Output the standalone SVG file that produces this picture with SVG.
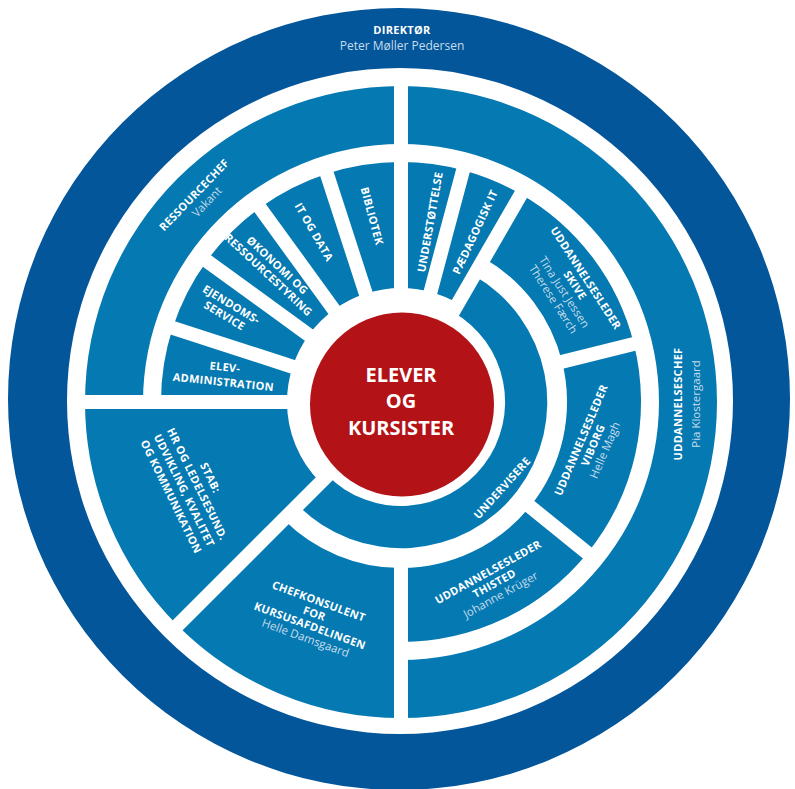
<svg xmlns="http://www.w3.org/2000/svg" width="795" height="789" viewBox="0 0 795 789">
<style>
.dark{fill:#03569a}
.light{fill:#0579b1}
.red{fill:#b31317}
.sep{stroke:#fff;stroke-width:14;stroke-linecap:butt;fill:none}
text{font-family:"Open Sans","Liberation Sans",sans-serif;fill:#fff;text-anchor:middle}
.t{font-weight:bold;font-size:11px;letter-spacing:0.3px}
.n{font-size:11.5px;fill:#c6dcec}
.c{font-weight:bold;font-size:20px}
</style>
<rect width="795" height="789" fill="#fff"/>
<g id="direktor">
<path class="dark" fill-rule="evenodd" d="M8,399 a391,391 0 1,0 782,0 a391,391 0 1,0 -782,0 Z M67,401 a333,333 0 1,0 666,0 a333,333 0 1,0 -666,0 Z"/>
<text class="t" x="402" y="34">DIREKTØR</text>
<text class="n" x="402" y="50" style="font-size:12px">Peter Møller Pedersen</text>
</g>
<g id="ressourcechef">
<path class="light" d="M85,402 A316,316 0 0,1 401,86 L401,144 A258,258 0 0,0 143,402 Z"/>
<g transform="translate(194,195) rotate(-46)"><text class="t" x="0" y="4">RESSOURCECHEF</text><text class="n" x="4" y="18">Vakant</text></g>
</g>
<g id="uddannelseschef">
<path class="light" d="M401,86 A316,316 0 0,1 401,718 L401,660 A258,258 0 0,0 401,144 Z"/>
<g transform="translate(687,404) rotate(-90)"><text class="t" x="0" y="-5">UDDANNELSESCHEF</text><text class="n" x="0" y="13">Pia Klostergaard</text></g>
</g>
<g id="stab">
<path class="light" d="M177.6,625.4 A316,316 0 0,1 85,402 L287,402 A114,114 0 0,0 320.4,482.6 Z"/>
<g transform="translate(191,487) rotate(64)"><text class="t"><tspan x="0" y="-17.5">STAB:</tspan><tspan x="0" y="-3">HR OG LEDELSESUND.</tspan><tspan x="0" y="11.5">UDVIKLING, KVALITET</tspan><tspan x="0" y="26">OG KOMMUNIKATION</tspan></text></g>
</g>
<g id="chefkonsulent">
<path class="light" d="M401,718 A316,316 0 0,1 177.6,625.4 L283.6,519.4 A166,166 0 0,0 401,568 Z"/>
<g transform="translate(312,620) rotate(20)"><text class="t"><tspan x="0" y="-16">CHEFKONSULENT</tspan><tspan x="0" y="-3">FOR</tspan><tspan x="0" y="10">KURSUSAFDELINGEN</tspan></text><text class="n" x="0" y="23">Helle Damsgaard</text></g>
</g>
<g id="elevadministration">
<path class="light" d="M161,402 A240,240 0 0,1 172.7,327.8 L292.6,366.8 A114,114 0 0,0 287,402 Z"/>
<g transform="translate(224,376) rotate(6)"><text class="t"><tspan x="0" y="-5">ELEV-</tspan><tspan x="0" y="10">ADMINISTRATION</tspan></text></g>
</g>
<g id="ejendomsservice">
<path class="light" d="M172.7,327.8 A240,240 0 0,1 206.8,260.9 L308.8,335 A114,114 0 0,0 292.6,366.8 Z"/>
<g transform="translate(228,310) rotate(31)"><text class="t"><tspan x="0" y="-2.5">EJENDOMS-</tspan><tspan x="0" y="10.5">SERVICE</tspan></text></g>
</g>
<g id="okonomi">
<path class="light" d="M206.8,260.9 A240,240 0 0,1 259.9,207.8 L334,309.8 A114,114 0 0,0 308.8,335 Z"/>
<g transform="translate(273,270) rotate(43)"><text class="t"><tspan x="0" y="-2.5">ØKONOMI OG</tspan><tspan x="0" y="10.5">RESSOURCESTYRING</tspan></text></g>
</g>
<g id="itogdata">
<path class="light" d="M259.9,207.8 A240,240 0 0,1 326.8,173.7 L365.8,293.6 A114,114 0 0,0 334,309.8 Z"/>
<g transform="translate(314,232) rotate(60)"><text class="t" x="0" y="4">IT OG DATA</text></g>
</g>
<g id="bibliotek">
<path class="light" d="M326.8,173.7 A240,240 0 0,1 401,162 L401,288 A114,114 0 0,0 365.8,293.6 Z"/>
<g transform="translate(372,216) rotate(75)"><text class="t" x="0" y="4">BIBLIOTEK</text></g>
</g>
<g id="understottelse">
<path class="light" d="M401,162 A240,240 0 0,1 463.1,170.2 L430.5,291.9 A114,114 0 0,0 401,288 Z"/>
<g transform="translate(430,222) rotate(-80)"><text class="t" x="0" y="4">UNDERSTØTTELSE</text></g>
</g>
<g id="paedagogiskit">
<path class="light" d="M463.1,170.2 A240,240 0 0,1 521,194.2 L458,303.3 A114,114 0 0,0 430.5,291.9 Z"/>
<g transform="translate(475,232) rotate(-65)"><text class="t" x="0" y="4">PÆDAGOGISK IT</text></g>
</g>
<g id="undervisere">
<path class="light" d="M474,275.6 A146,146 0 1,1 297.8,505.2 L327.5,475.5 A104,104 0 1,0 453,311.9 Z"/>
<g transform="translate(502,488) rotate(-48)"><text class="t" x="0" y="4">UNDERVISERE</text></g>
</g>
<g id="skive">
<path class="light" d="M521,194.2 A240,240 0 0,1 633.9,343.9 L562.1,361.8 A166,166 0 0,0 484,258.2 Z"/>
<g transform="translate(586,278) rotate(57)"><text class="t"><tspan x="0" y="4">UDDANNELSESLEDER</tspan><tspan x="0" y="17">SKIVE</tspan></text><text class="n"><tspan x="0" y="30">Tina Just Jessen</tspan><tspan x="0" y="43">Therese Færch</tspan></text></g>
</g>
<g id="viborg">
<path class="light" d="M633.9,343.9 A240,240 0 0,1 587.5,553 L530,506.5 A166,166 0 0,0 562.1,361.8 Z"/>
<g transform="translate(581,440) rotate(-67)"><text class="t"><tspan x="0" y="4">UDDANNELSESLEDER</tspan><tspan x="0" y="17">VIBORG</tspan></text><text class="n" x="0" y="30">Helle Magh</text></g>
</g>
<g id="thisted">
<path class="light" d="M587.5,553 A240,240 0 0,1 401,642 L401,568 A166,166 0 0,0 530,506.5 Z"/>
<g transform="translate(488,572) rotate(-29)"><text class="t"><tspan x="0" y="4">UDDANNELSESLEDER</tspan><tspan x="0" y="17">THISTED</tspan></text><text class="n" x="0" y="30">Johanne Krüger</text></g>
</g>
<g id="connectors">
<line class="sep" x1="401" y1="300" x2="401" y2="80"/>
<line class="sep" x1="401" y1="560" x2="401" y2="722"/>
<line class="sep" x1="290" y1="402" x2="80" y2="402"/>
<line class="sep" x1="296.4" y1="368" x2="168" y2="326.3"/>
<line class="sep" x1="312" y1="337.3" x2="202.8" y2="258"/>
<line class="sep" x1="336.3" y1="313" x2="257" y2="203.8"/>
<line class="sep" x1="367" y1="297.4" x2="325.3" y2="169"/>
<line class="sep" x1="429.5" y1="295.7" x2="464.4" y2="165.3"/>
<line class="sep" x1="451" y1="315.4" x2="526" y2="185.5"/>
<line class="sep" x1="556.2" y1="363.3" x2="638.7" y2="342.7"/>
<line class="sep" x1="525.3" y1="502.7" x2="591.4" y2="556.2"/>
<line class="sep" x1="330.3" y1="472.7" x2="174.7" y2="628.3"/>
</g>
<g id="elever">
<circle class="red" cx="402" cy="404.5" r="92"/>
<text class="c"><tspan x="401" y="381.5">ELEVER</tspan><tspan x="401" y="407.5">OG</tspan><tspan x="401" y="434.5">KURSISTER</tspan></text>
</g>
</svg>
